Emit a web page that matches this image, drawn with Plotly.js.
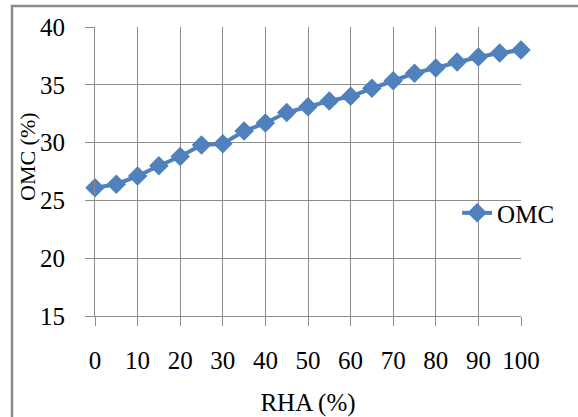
<!DOCTYPE html>
<html>
<head>
<meta charset="utf-8">
<script src="https://cdn.plot.ly/plotly-3.0.1.min.js"></script>
<style>
html,body{margin:0;padding:0;background:#fff;}
#chart{width:578px;height:417px;}
</style>
</head>
<body>
<div id="chart"></div>
<script>
const rha = [0,5,10,15,20,25,30,35,40,45,50,55,60,65,70,75,80,85,90,95,100];
const omc = [26.1,26.4,27.1,28.0,28.8,29.8,29.9,31.0,31.7,32.6,33.1,33.6,34.0,34.7,35.35,36.0,36.45,36.97,37.4,37.75,38.0];
const xTicks = [0,10,20,30,40,50,60,70,80,90,100];
const yTicks = [15,20,25,30,35,40];
const seriesName = 'OMC';
const xTitle = 'RHA (%)';
const yTitle = 'OMC (%)';

const serif = 'Liberation Serif, Times New Roman, serif';
const gridCol = '#8c8c8c';
const fs = 25;

const trace = {
  x: rha, y: omc, name: seriesName, type: 'scatter', mode: 'lines+markers',
  line: {color: '#4F81BD', width: 4},
  marker: {symbol: 'diamond', size: 15, color: '#4F81BD'},
  cliponaxis: false
};

const layout = {
  width: 578, height: 417,
  margin: {l: 95, r: 57, t: 27, b: 101},
  paper_bgcolor: '#fff', plot_bgcolor: '#fff',
  font: {family: serif, size: fs, color: '#000'},
  showlegend: true,
  legend: {x: 0.85, y: 0.356, xanchor: 'left', yanchor: 'middle', bgcolor: 'rgba(0,0,0,0)',
           font: {family: serif, size: fs, color: '#000'}, borderwidth: 0},
  xaxis: {
    range: [0, 100], tickvals: xTicks, ticktext: xTicks.map(String),
    showgrid: true, gridcolor: gridCol, gridwidth: 1,
    showline: true, linecolor: gridCol, linewidth: 1,
    ticks: 'outside', ticklen: 9, tickcolor: gridCol, tickwidth: 1,
    ticklabelstandoff: 13,
    zeroline: false, fixedrange: true,
    tickfont: {family: serif, size: fs, color: '#000'},
    title: {text: xTitle, font: {family: serif, size: fs, color: '#000'}, standoff: 20}
  },
  yaxis: {
    range: [15, 40], tickvals: yTicks, ticktext: yTicks.map(String),
    showgrid: true, gridcolor: gridCol, gridwidth: 1,
    showline: true, linecolor: gridCol, linewidth: 1,
    ticks: 'outside', ticklen: 9, tickcolor: gridCol, tickwidth: 1,
    ticklabelstandoff: 15,
    zeroline: false, fixedrange: true,
    tickfont: {family: serif, size: fs, color: '#000'}
  },
  annotations: [{
    text: yTitle, xref: 'paper', yref: 'paper',
    x: (27 - 95) / 426, y: (316 - 157) / 289,
    xanchor: 'center', yanchor: 'middle', textangle: -90, showarrow: false,
    font: {family: serif, size: 22, color: '#000'}
  }],
  shapes: [{
    type: 'rect', xref: 'paper', yref: 'paper',
    x0: (12 - 95) / 426, x1: 2, y0: -1, y1: 1 + (27 - 6) / 289,
    line: {color: '#8a8a8a', width: 2.5}, fillcolor: 'rgba(0,0,0,0)', layer: 'below'
  }]
};

Plotly.newPlot('chart', [trace], layout, {displayModeBar: false, staticPlot: true});
</script>
</body>
</html>
